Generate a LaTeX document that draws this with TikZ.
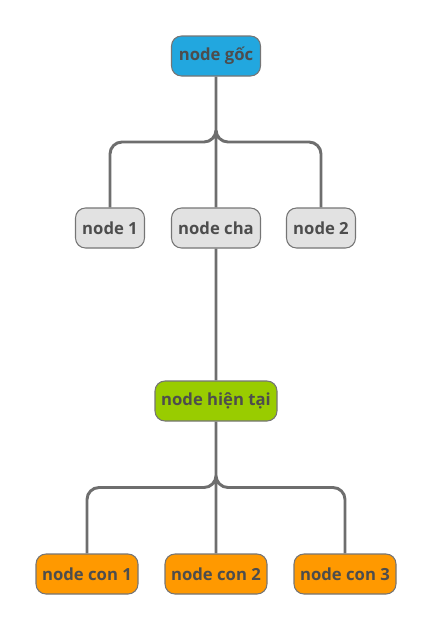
\documentclass[tikz,border=0pt]{standalone}
\usepackage{fontspec}
\setmainfont{Open Sans}
\usetikzlibrary{positioning,calc}
\definecolor{rootblue}{HTML}{22A7DF}
\definecolor{boxgray}{HTML}{E2E2E2}
\definecolor{curgreen}{HTML}{99CC00}
\definecolor{kidorange}{HTML}{FF9900}
\definecolor{inkgray}{HTML}{4D4D4D}
\definecolor{edgegray}{HTML}{757575}
\definecolor{linkgray}{HTML}{6E6E6E}
\tikzset{
 box/.style={draw=edgegray, line width=0.8pt, rounded corners=7.5pt, minimum height=30pt,
  inner xsep=4pt, font=\bfseries\fontsize{12.5}{14}\selectfont, text=inkgray},
 link/.style={draw=linkgray, line width=2.2pt, rounded corners=9pt}
}
\begin{document}
\begin{tikzpicture}[x=0.75pt,y=-0.75pt]
 \useasboundingbox (0,0) rectangle (434,632);
 % upper part
 \node [box, fill=rootblue, minimum width=66.75pt] (root) at (216,56) {node gốc};
 \node [box, fill=boxgray, minimum width=51.75pt] (n1) at (110,228) {node 1};
 \node [box, fill=boxgray, minimum width=66.75pt] (cha) at (216,228) {node cha};
 \node [box, fill=boxgray, minimum width=51.75pt] (n2) at (321,228) {node 2};
 %
 \node [box, fill=curgreen, minimum width=91.5pt] (cur) at (216,401) {node hiện tại};
 % lower part
 \node [box, fill=kidorange, minimum width=76.5pt] (c1) at (87,574) {node con 1};
 \node [box, fill=kidorange, minimum width=76.5pt] (c2) at (216,574) {node con 2};
 \node [box, fill=kidorange, minimum width=76.5pt] (c3) at (345,574) {node con 3};
 %
 \coordinate (j1) at ($(root.south)!0.5!(cha.north)$);
 \coordinate (j2) at ($(cur.south)!0.5!(c2.north)$);
 \draw [link] (root.south) |- (n1.north |- j1) -- (n1.north)
  (root.south) |- (n2.north |- j1) -- (n2.north)
  (root.south) -- (cha.north);
 \draw [link] (cha.south) -- (cur.north)
  (cur.south) |- (c1.north |- j2) -- (c1.north)
  (cur.south) |- (c3.north |- j2) -- (c3.north)
  (cur.south) -- (c2.north);
\end{tikzpicture}
\end{document}
